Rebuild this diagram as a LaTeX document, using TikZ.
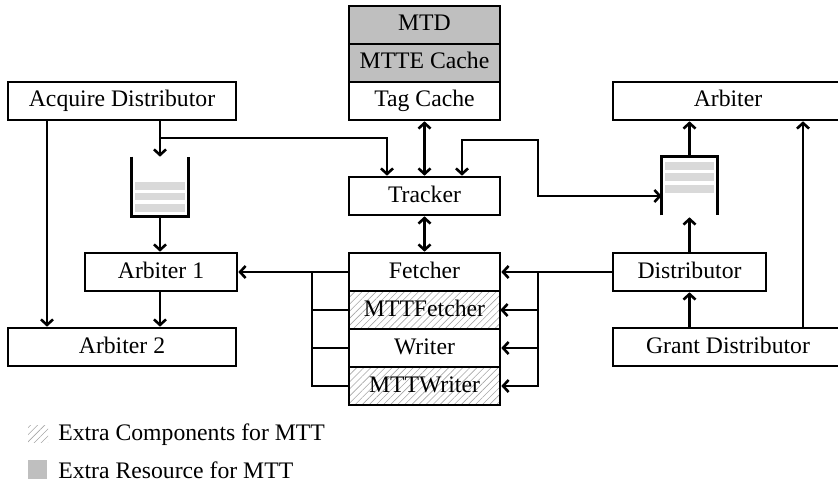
\documentclass[tikz,border=0pt]{standalone}
\usepackage{fontspec}
\setmainfont{Liberation Serif}
\usetikzlibrary{arrows.meta,patterns.meta}
\begin{document}
\begin{tikzpicture}[x=1pt,y=-1pt,line width=2.6pt,
  >={Straight Barb[length=5.5pt,width=12pt]},
  lbl/.style={inner sep=0pt,text height=17pt,text depth=5pt,font=\fontsize{23.7}{28}\selectfont},
  box/.style={draw,lbl,minimum height=38pt},
  extra/.style={box,pattern={Lines[angle=45,distance=5pt,line width=0.6pt]},pattern color=gray!70},
  res/.style={box,fill=gray!50}]
\useasboundingbox (0,0) rectangle (838,484);
% left side
\node[box,minimum width=228pt] (AD) at (122,101) {Acquire Distributor};
\node[box,minimum width=152pt] (A1) at (161,272) {Arbiter 1};
\node[box,minimum width=228pt] (A2) at (122,347) {Arbiter 2};
\node[inner sep=0pt,minimum width=54pt,minimum height=57pt] (QL) at (160,186.5) {};
\fill[gray!30] (135,182) rectangle (185,190);
\fill[gray!30] (135,193) rectangle (185,200);
\fill[gray!30] (135,204) rectangle (185,212);
\draw (QL.north west) -- (QL.south west) -- (QL.south east) -- (QL.north east);
% middle column
\node[res,minimum width=151pt] (MTD) at (424.5,25) {MTD};
\node[res,minimum width=151pt] (MC) at (424.5,63) {MTTE Cache};
\node[box,minimum width=151pt] (TC) at (424.5,101) {Tag Cache};
\node[box,minimum width=151pt] (TR) at (424.5,196) {Tracker};
\node[box,minimum width=151pt] (F) at (424.5,272) {Fetcher};
\node[extra,minimum width=151pt] (MF) at (424.5,310) {MTTFetcher};
\node[box,minimum width=151pt] (W) at (424.5,348) {Writer};
\node[extra,minimum width=151pt] (MW) at (424.5,386) {MTTWriter};
% right side
\node[box,minimum width=230pt] (AR) at (728,101) {Arbiter};
\node[box,minimum width=153pt] (D) at (689.5,272) {Distributor};
\node[box,minimum width=230pt] (GD) at (728,347) {Grant Distributor};
\node[inner sep=0pt,minimum width=53pt,minimum height=56pt] (QR) at (689.5,186) {};
\fill[gray!30] (665,162) rectangle (714,170);
\fill[gray!30] (665,173) rectangle (714,181);
\fill[gray!30] (665,185) rectangle (714,193);
\draw (QR.south west) -- (QR.north west) -- (QR.north east) -- (QR.south east);
% connectors
\coordinate (jA) at (160,138);
\draw[->] (AD.south -| QL) -- (QL.north);
\draw[->] (jA) -| ([xshift=-37.5pt]TR.north);
\draw[->] ([xshift=-75pt]AD.south) -- ([xshift=-75pt]A2.north);
\draw[->] (QL.south) -- (QL.south |- A1.north);
\draw[->] (QL.south |- A1.south) -- (QL.south |- A2.north);
\draw[<->] (TC) -- (TR);
\draw[<->] (TR) -- (F);
\draw[<->] ([xshift=37.5pt]TR.north) |- (538,140) |- ([yshift=-10pt]QR.west);
\draw[->] (QR.north) -- (QR.north |- AR.south);
\draw[->] (D.north) -- ([yshift=-2pt]QR.south);
\draw[->] (D.south |- GD.north) -- (D.south);
\draw[->] ([xshift=75pt]GD.north) -- ([xshift=75pt]AR.south);
% buses
\coordinate (bL) at (312,272);
\coordinate (bR) at (538,272);
\draw[->] (F.west) -- (A1.east);
\draw (MF.west) -- (MF.west -| bL);
\draw (W.west) -- (W.west -| bL);
\draw (MW.west) -| (bL);
\draw[->] (D.west) -- (F.east);
\draw[->] (MF.east -| bR) -- (MF.east);
\draw[->] (W.east -| bR) -- (W.east);
\draw[->] (bR) |- (MW.east);
% legend
\node[inner sep=0pt,minimum width=20pt,minimum height=17pt,pattern={Lines[angle=45,distance=5pt,line width=0.6pt]},pattern color=gray!70] (LH) at (38,433.5) {};
\node[inner sep=0pt,minimum width=19pt,minimum height=19pt,fill=gray!50] (LG) at (37.5,469.5) {};
\node[lbl,anchor=west] (LT1) at (57,434) {Extra Components for MTT};
\node[lbl,anchor=west] (LT2) at (57,472) {Extra Resource for MTT};
\end{tikzpicture}
\end{document}
